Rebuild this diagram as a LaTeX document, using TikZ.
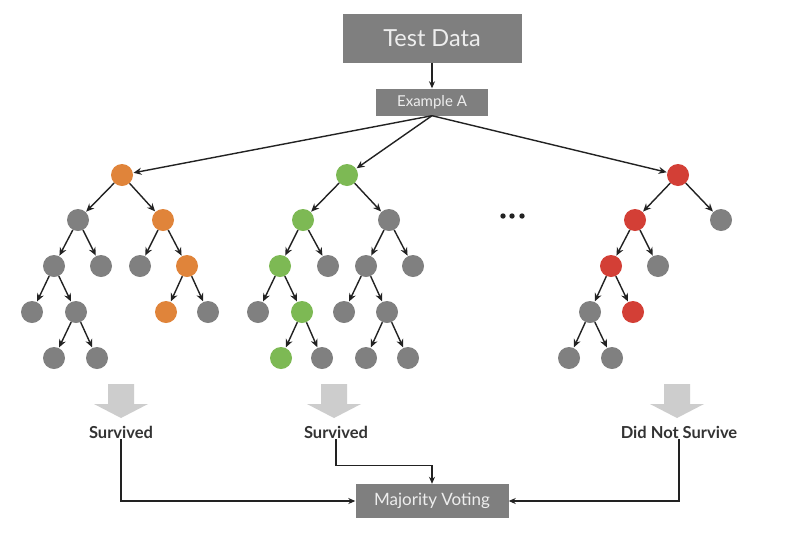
\documentclass[tikz,border=0pt]{standalone}
\usepackage{fontspec}
\setmainfont{Lato}
\usetikzlibrary{arrows.meta}
\definecolor{boxgray}{HTML}{7F7F7F}
\definecolor{nodegray}{HTML}{808080}
\definecolor{orng}{HTML}{E0843A}
\definecolor{grn}{HTML}{7DB954}
\definecolor{rd}{HTML}{D33F36}
\definecolor{lgray}{HTML}{CDCDCD}
\definecolor{txtw}{HTML}{EEEEEE}
\definecolor{conn}{HTML}{222222}
\begin{document}
\begin{tikzpicture}[x=1pt,y=-1pt,
  gbox/.style={fill=boxgray,text=txtw,inner sep=0pt,align=center},
  circ/.style={circle,minimum size=22pt,inner sep=0pt,fill=nodegray},
  oc/.style={circ,fill=orng},
  gc/.style={circ,fill=grn},
  rc/.style={circ,fill=rd},
  edge/.style={draw=conn,line width=1.4pt,-{Stealth[length=8pt,width=7pt]},shorten >=0.5pt},
  link/.style={draw=conn,line width=1.2pt,-{Stealth[length=7pt,width=6pt]}},
  res/.style={font=\bfseries\fontsize{16.5}{19}\selectfont,text=black!80,inner sep=1pt},
  blockarrow/.style={fill=lgray,draw=none}]
\useasboundingbox[fill=white] (0,0) rectangle (802,536);
% top boxes
\node[gbox,minimum width=179pt,minimum height=49pt,font=\fontsize{23.5}{27}\selectfont] (td) at (432,38) {Test Data};
\node[gbox,minimum width=112pt,minimum height=27pt,font=\fontsize{15}{17}\selectfont] (ex) at (432,102) {Example A};
\draw[link] (td) -- (ex);
% tree 1 (orange)
\node[oc] (a1) at (122,175) {};
\node[circ] (a2) at (78,220) {};
\node[oc] (a3) at (163,220) {};
\node[circ] (a4) at (54,266) {};
\node[circ] (a5) at (101,266) {};
\node[circ] (a6) at (140,266) {};
\node[oc] (a7) at (187,266) {};
\node[circ] (a8) at (32,312) {};
\node[circ] (a9) at (76,312) {};
\node[oc] (a10) at (166,312) {};
\node[circ] (a11) at (208,312) {};
\node[circ] (a12) at (54,358) {};
\node[circ] (a13) at (97,358) {};
\foreach \p/\c in {a1/a2,a1/a3,a2/a4,a2/a5,a3/a6,a3/a7,a4/a8,a4/a9,a7/a10,a7/a11,a9/a12,a9/a13}
  \draw[edge] (\p) -- (\c);
% tree 2 (green)
\node[gc] (b1) at (347,175) {};
\node[gc] (b2) at (303,220) {};
\node[circ] (b3) at (389,220) {};
\node[gc] (b4) at (280,266) {};
\node[circ] (b5) at (328,266) {};
\node[circ] (b6) at (366,266) {};
\node[circ] (b7) at (413,266) {};
\node[circ] (b8) at (258,312) {};
\node[gc] (b9) at (302,312) {};
\node[circ] (b10) at (344,312) {};
\node[circ] (b11) at (387,312) {};
\node[gc] (b12) at (281,358) {};
\node[circ] (b13) at (322,358) {};
\node[circ] (b14) at (366,358) {};
\node[circ] (b15) at (408,358) {};
\foreach \p/\c in {b1/b2,b1/b3,b2/b4,b2/b5,b3/b6,b3/b7,b4/b8,b4/b9,b6/b10,b6/b11,b9/b12,b9/b13,b11/b14,b11/b15}
  \draw[edge] (\p) -- (\c);
% tree 3 (red)
\node[rc] (c1) at (678,175) {};
\node[rc] (c2) at (635,220) {};
\node[circ] (c3) at (721,220) {};
\node[rc] (c4) at (611,266) {};
\node[circ] (c5) at (658,266) {};
\node[circ] (c6) at (590,312) {};
\node[rc] (c7) at (633,312) {};
\node[circ] (c8) at (569,358) {};
\node[circ] (c9) at (612,358) {};
\foreach \p/\c in {c1/c2,c1/c3,c2/c4,c2/c5,c4/c6,c4/c7,c6/c8,c6/c9}
  \draw[edge] (\p) -- (\c);
% from example to roots
\draw[edge] (ex.south) -- (a1);
\draw[edge] (ex.south) -- (b1);
\draw[edge] (ex.south) -- (c1);
% dots
\foreach \x in {503,512,522} \fill[conn] (\x,216) circle (2.7pt);
% block arrows
\foreach \x in {121,334,677}
  \fill[lgray] (\x-13,384) -- (\x+13,384) -- (\x+13,404) -- (\x+27,404) -- (\x,418) -- (\x-27,404) -- (\x-13,404) -- cycle;
% results
\node[res] (s1) at (121,432) {Survived};
\node[res] (s2) at (336,432) {Survived};
\node[res] (s3) at (679,432) {Did Not Survive};
% majority voting
\node[gbox,minimum width=153pt,minimum height=34pt,font=\fontsize{17}{20}\selectfont] (mv) at (432,501) {Majority Voting};
\path (mv.north) ++(0,-18) coordinate (j);
\draw[link] (s1.south) |- (mv.west);
\draw[link] (s3.south) |- (mv.east);
\draw[link] (s2.south) |- (j) -- (mv.north);
\end{tikzpicture}
\end{document}
